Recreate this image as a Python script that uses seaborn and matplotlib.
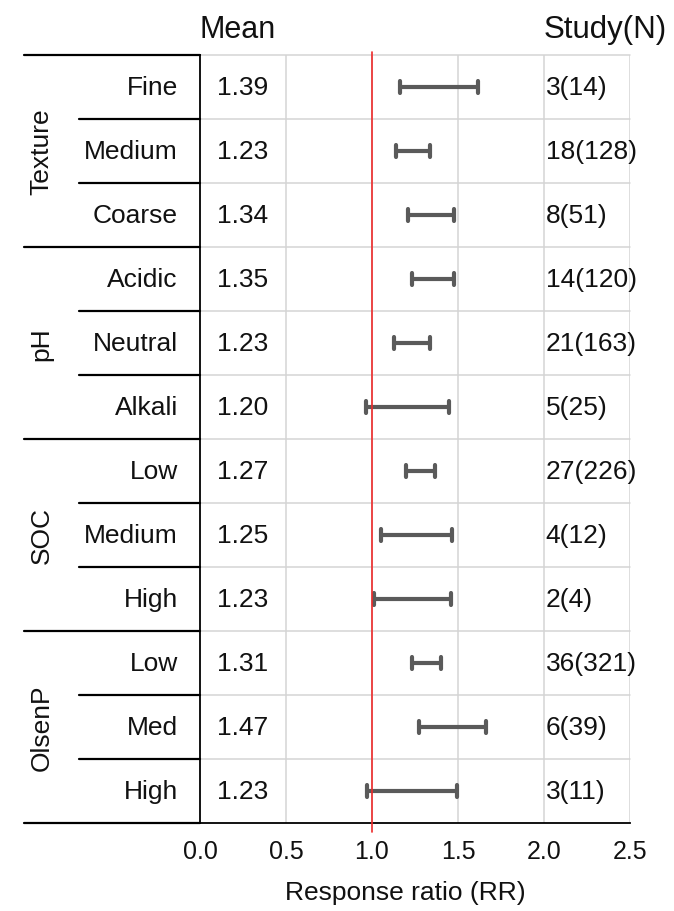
import numpy as np
import pandas as pd
import matplotlib
matplotlib.use("Agg")
import matplotlib.pyplot as plt
import seaborn as sns

# ---- data -------------------------------------------------------------
groups = ["Texture", "pH", "SOC", "OlsenP"]
group_sizes = [3, 3, 3, 3]
levels = ["Fine", "Medium", "Coarse",
          "Acidic", "Neutral", "Alkali",
          "Low", "Medium", "High",
          "Low", "Med", "High"]
mean_rr = [1.39, 1.23, 1.34, 1.35, 1.23, 1.20, 1.27, 1.25, 1.23, 1.31, 1.47, 1.23]
ci_low = [1.165, 1.14, 1.21, 1.235, 1.13, 0.965, 1.195, 1.055, 1.01, 1.235, 1.275, 0.97]
ci_high = [1.615, 1.335, 1.475, 1.475, 1.335, 1.45, 1.365, 1.465, 1.46, 1.40, 1.665, 1.495]
study_n = ["3(14)", "18(128)", "8(51)", "14(120)", "21(163)", "5(25)",
           "27(226)", "4(12)", "2(4)", "36(321)", "6(39)", "3(11)"]
x_ticks = [0.0, 0.5, 1.0, 1.5, 2.0, 2.5]

# ---- styling ----------------------------------------------------------
sns.set_style("white")
plt.rcParams["font.family"] = ["Liberation Sans", "DejaVu Sans"]
plt.rcParams["text.color"] = "#111111"

W, H = 674, 912
fig = plt.figure(figsize=(W / 100, H / 100), dpi=100)
ax = fig.add_axes([200 / W, (H - 824) / H, 430 / W, 768 / H])

row_ids = [str(i) for i in range(len(levels))]
long = pd.DataFrame({
    "row": row_ids * 2,
    "rr": list(ci_low) + list(ci_high),
})

bar_color = "#5a5a5a"
sns.pointplot(data=long, x="rr", y="row", order=row_ids, orient="h",
              estimator="mean", errorbar=lambda v: (v.min(), v.max()),
              linestyle="none", markersize=0, capsize=0.2,
              color=bar_color, err_kws={"linewidth": 3.0}, ax=ax)

n = len(levels)
ax.set_xlim(0, 2.5)
ax.set_ylim(n - 0.5, -0.5)
ax.set_yticks([])
ax.set_ylabel("")

# grid
grid_c = "#d4d4d4"
for xv in x_ticks[1:]:
    ax.axvline(xv, color=grid_c, lw=1.1, zorder=0)
for k in range(n):
    ax.plot([0, 2.5], [k - 0.5, k - 0.5], color=grid_c, lw=1.1, zorder=0, clip_on=False)

# reference line at RR = 1
ax.plot([1, 1], [-0.55, n - 0.5 + 0.14], color="#ee2a2a", lw=1.2, zorder=3, clip_on=False)

# spines and ticks
for s in ["top", "right"]:
    ax.spines[s].set_visible(False)
ax.spines["left"].set_color("black")
ax.spines["left"].set_linewidth(1.3)
ax.spines["bottom"].set_color("black")
ax.spines["bottom"].set_linewidth(1.3)
ax.set_xticks(x_ticks)
ax.set_xticklabels([f"{v:.1f}" for v in x_ticks], fontsize=18)
ax.tick_params(axis="x", direction="out", length=6.5, width=1.3, color="black",
               labelcolor="#111111", pad=5)
ax.set_xlabel("Response ratio (RR)", fontsize=19, color="#111111")
ax.xaxis.set_label_coords((405 - 200) / 430, (824 - 893) / 768)
ax.xaxis.label.set_va("center")

# left-hand table
px = 171.6  # pixels per RR unit
table_left = (24 - 200) / px
inner_left = (79 - 200) / px
label_right = (178 - 200) / px
group_x = (42 - 200) / px
mean_x = (217 - 200) / px
study_x = (545 - 200) / px

line_kw = dict(color="black", lw=1.6, clip_on=False, zorder=4)
ax.plot([table_left, 0], [-0.5, -0.5], **line_kw)
ax.plot([table_left, 0], [n - 0.5, n - 0.5], **line_kw)
start = 0
for g, size in zip(groups, group_sizes):
    end = start + size
    if end < n:
        ax.plot([table_left, 0], [end - 0.5, end - 0.5], **line_kw)
    for k in range(start + 1, end):
        ax.plot([inner_left, 0], [k - 0.5, k - 0.5], **line_kw)
    ax.text(group_x, (start + end - 1) / 2, g, rotation=90, ha="center",
            va="center", fontsize=19)
    start = end

body_fs = 19
for i in range(n):
    ax.text(label_right, i, levels[i], ha="right", va="center", fontsize=body_fs)
    ax.text(mean_x, i, f"{mean_rr[i]:.2f}", ha="left", va="center", fontsize=body_fs)
    ax.text(study_x, i, study_n[i], ha="left", va="center", fontsize=body_fs,
            clip_on=False)

head_y = -0.5 - (56 - 30) / 64
ax.text(0.0, head_y, "Mean", ha="left", va="center", fontsize=22)
ax.text(2.0, head_y, "Study(N)", ha="left", va="center", fontsize=22.5)

fig.savefig("out.png", dpi=100)
